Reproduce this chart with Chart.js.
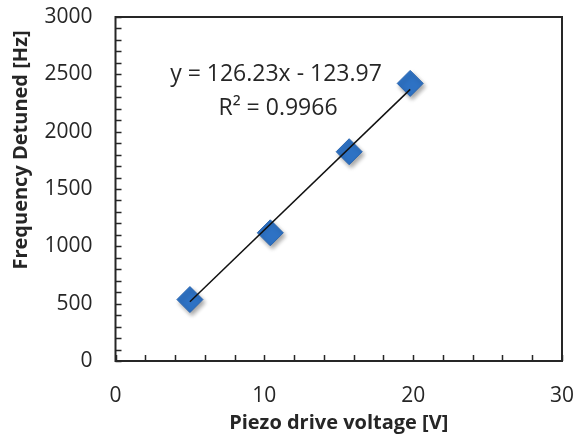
<!DOCTYPE html>
<html>
<head>
<meta charset="utf-8">
<script src="https://cdn.jsdelivr.net/npm/chart.js@4/dist/chart.umd.min.js"></script>
<style>
  html, body { margin: 0; padding: 0; background: #ffffff; }
  #wrap { width: 576px; height: 437px; }
</style>
</head>
<body>
<div id="wrap"><canvas id="c" width="576" height="437"></canvas></div>
<script>
// ---- data ----
const voltage = [5.0, 10.4, 15.7, 19.8];          // Piezo drive voltage [V]
const detuning = [536, 1118, 1825, 2421];         // Frequency Detuned [Hz]
const trendX = [5.0, 19.8];                       // trendline end points (x)
const trendY = [517, 2369];                       // trendline end points (y)
const xTickLabels = [0, 10, 20, 30];
const yTickLabels = [0, 500, 1000, 1500, 2000, 2500, 3000];
const equationText = ['y = 126.23x - 123.97', 'R\u00B2 = 0.9966'];
const xTitle = 'Piezo drive voltage [V]';
const yTitle = 'Frequency Detuned [Hz]';

const FONT = '"Open Sans", "Liberation Sans", sans-serif';
const INK = '#262626';

function zeroPad(s) { s.paddingTop = 0; s.paddingBottom = 0; s.paddingLeft = 0; s.paddingRight = 0; }

const framePlugin = {
  id: 'frame',
  beforeDatasetDraw(chart, args) {
    if (args.index === 1) {
      const ctx = chart.ctx;
      ctx.shadowColor = 'rgba(0,0,0,0.35)';
      ctx.shadowBlur = 4;
      ctx.shadowOffsetX = 2;
      ctx.shadowOffsetY = 3;
    }
  },
  afterDatasetDraw(chart) {
    const ctx = chart.ctx;
    ctx.shadowColor = 'rgba(0,0,0,0)';
    ctx.shadowBlur = 0;
    ctx.shadowOffsetX = 0;
    ctx.shadowOffsetY = 0;
  },
  afterDraw(chart) {
    const ctx = chart.ctx;
    const a = chart.chartArea;
    const xs = chart.scales.x, ys = chart.scales.y;
    ctx.save();
    ctx.strokeStyle = INK;
    // frame
    ctx.lineWidth = 2;
    ctx.strokeRect(a.left, a.top, a.right - a.left, a.bottom - a.top);
    // inside tick marks
    ctx.lineWidth = 1.5;
    ctx.beginPath();
    ys.ticks.forEach(t => {
      const y = Math.round(ys.getPixelForValue(t.value)) + 0.5;
      ctx.moveTo(a.left, y); ctx.lineTo(a.left + 6, y);
    });
    xs.ticks.forEach(t => {
      const x = Math.round(xs.getPixelForValue(t.value)) + 0.5;
      ctx.moveTo(x, a.bottom); ctx.lineTo(x, a.bottom - 6);
    });
    ctx.stroke();
    // trendline equation
    ctx.fillStyle = INK;
    ctx.font = '23px ' + FONT;
    ctx.textAlign = 'center';
    ctx.textBaseline = 'middle';
    ctx.fillText(equationText[0], 276, 74);
    ctx.fillText(equationText[1], 278, 108);
    // y-axis title
    ctx.font = 'bold 20px ' + FONT;
    ctx.translate(21, 150);
    ctx.rotate(-Math.PI / 2);
    ctx.fillText(yTitle, 0, 0);
    ctx.restore();
  }
};

new Chart(document.getElementById('c'), {
  type: 'scatter',
  data: {
    datasets: [
      {
        type: 'line',
        label: 'Linear fit',
        data: trendX.map((x, i) => ({ x: x, y: trendY[i] })),
        borderColor: '#111111',
        borderWidth: 1.5,
        pointRadius: 0,
        fill: false
      },
      {
        label: 'Detuning',
        data: voltage.map((v, i) => ({ x: v, y: detuning[i] })),
        pointStyle: 'rectRot',
        pointRadius: 13,
        pointHoverRadius: 13,
        backgroundColor: '#2e72c4',
        borderColor: '#2a66b0',
        borderWidth: 1
      }
    ]
  },
  options: {
    responsive: false,
    animation: false,
    devicePixelRatio: 1,
    layout: { padding: { top: 17, right: 14, left: 0, bottom: 0 } },
    plugins: { legend: { display: false }, tooltip: { enabled: false } },
    scales: {
      x: {
        type: 'linear',
        min: 0, max: 30,
        grid: { display: false, drawTicks: false },
        border: { display: false },
        ticks: {
          stepSize: 2,
          autoSkip: false,
          maxRotation: 0,
          padding: 22,
          color: INK,
          font: { family: FONT, size: 21 },
          callback: v => xTickLabels.includes(v) ? String(v) : ''
        },
        title: {
          display: true,
          text: xTitle,
          color: INK,
          font: { family: FONT, size: 20, weight: 'bold' },
          padding: { top: 0, bottom: 2 }
        },
        afterFit: s => { s.height = 76; zeroPad(s); }
      },
      y: {
        type: 'linear',
        min: 0, max: 3000,
        grid: { display: false, drawTicks: false },
        border: { display: false },
        ticks: {
          stepSize: 100,
          autoSkip: false,
          padding: 23,
          color: INK,
          font: { family: FONT, size: 21 },
          callback: v => yTickLabels.includes(v) ? String(v) : ''
        },
        afterFit: s => { s.width = 115.5; zeroPad(s); }
      }
    }
  },
  plugins: [framePlugin]
});
</script>
</body>
</html>
